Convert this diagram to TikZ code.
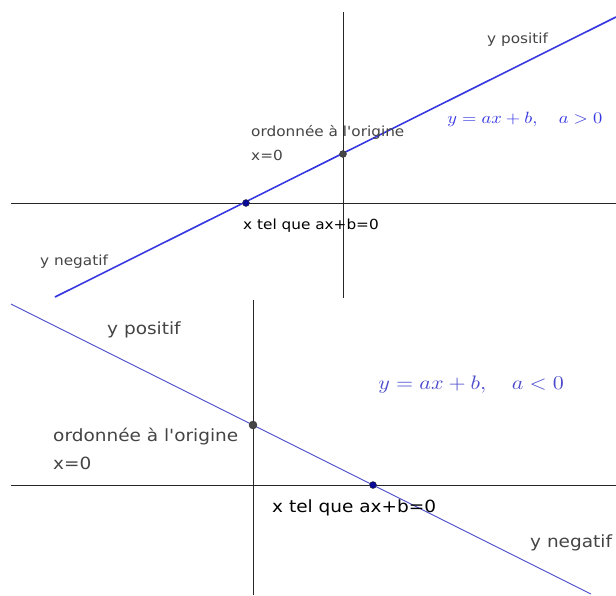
\documentclass[tikz,border=0pt]{standalone}
\usepackage{amsmath}
\usepackage[no-math]{fontspec}
\newfontfamily\geofont{DejaVu Sans}
\usepackage{tikz}
\usetikzlibrary{positioning}
\usepackage{xcolor}

\definecolor{droiteup}{RGB}{55,55,225}
\definecolor{droitedown}{RGB}{75,75,205}
\definecolor{pointbleu}{RGB}{10,10,150}
\definecolor{pointgris}{RGB}{70,70,70}
\definecolor{textegris}{RGB}{68,68,68}

\begin{document}
\begin{tikzpicture}[x=1pt, y=-1pt,
    axe/.style={black!85, line width=0.9pt},
    point/.style={circle, draw=black!80, fill=#1, inner sep=0pt, minimum size=7pt},
    etiq/.style={anchor=west, inner sep=0pt, text=textegris, xscale=1.1},
    eqn/.style={anchor=west, inner sep=0pt, xscale=1.13},
    ]
    \useasboundingbox (0,0) rectangle (616,595);

    % Top graph - a > 0
    \begin{scope}
        % Axes
        \coordinate (hg) at (11,203);
        \coordinate (hd) at (616,203);
        \coordinate (vh) at (343,12);
        \coordinate (vb) at (343,298);
        \draw[axe] (hg) -- (hd);
        \draw[axe] (vh) -- (vb);

        % Draw the line
        \coordinate (d1) at (55,297);
        \coordinate (d2) at (616,17);
        \draw[droiteup, line width=1.6pt] (d1) -- (d2);

        % Draw the two points
        \node[point=pointbleu] (racine1) at (246,203) {};
        \node[point=pointgris] (ordo1) at (343,154) {};

        % Labels
        \begin{scope}[every node/.append style={font=\geofont\fontsize{13.9}{16}\selectfont}]
            \node[etiq] (pos1) at (487,40) {y positif};
            \node[etiq] (ori1) at (251,132) {ordonnée à l'origine};
            \node[etiq] (xz1) at (251,155) {x=0};
            \node[etiq, text=black] (xr1) at (243,226) {x tel que ax+b=0};
            \node[etiq] (neg1) at (40,262) {y negatif};
        \end{scope}
        \node[eqn, scale=1.63, text=droiteup] (eq1) at (447,119) {$y = ax + b,\quad a > 0$};
    \end{scope}

    % Bottom graph - a < 0
    \begin{scope}
        % Axes
        \coordinate (hg) at (11,485);
        \coordinate (hd) at (616,485);
        \coordinate (vh) at (253,300);
        \coordinate (vb) at (253,595);
        \draw[axe] (hg) -- (hd);
        \draw[axe] (vh) -- (vb);

        % Draw the line
        \coordinate (d1) at (11,304);
        \coordinate (d2) at (591,594);
        \draw[droitedown, line width=0.9pt] (d1) -- (d2);

        % Draw the two points
        \node[point=pointbleu] (racine2) at (373,485) {};
        \node[point=pointgris, minimum size=8pt] (ordo2) at (253,425) {};

        % Labels
        \begin{scope}[every node/.append style={font=\geofont\fontsize{16.8}{19}\selectfont}]
            \node[etiq] (pos2) at (107,330) {y positif};
            \node[etiq] (ori2) at (53,437) {ordonnée à l'origine};
            \node[etiq] (xz2) at (53,463) {x=0};
            \node[etiq, text=black] (xr2) at (272,508) {x tel que ax+b=0};
            \node[etiq] (neg2) at (530,543) {y negatif};
        \end{scope}
        \node[eqn, scale=1.95, text=droitedown] (eq2) at (378,385) {$y = ax + b,\quad a < 0$};
    \end{scope}
\end{tikzpicture}
\end{document}
